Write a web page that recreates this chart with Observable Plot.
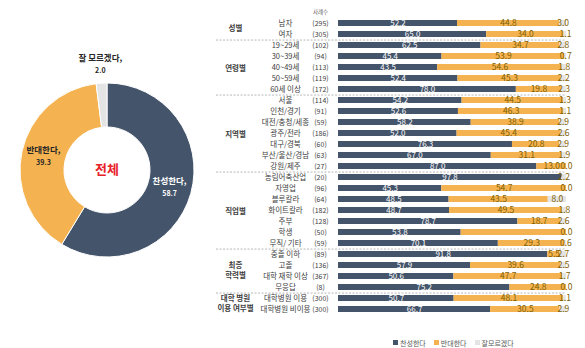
<!DOCTYPE html>
<html><head><meta charset="utf-8">
<script src="https://cdn.jsdelivr.net/npm/d3@7"></script>
<script src="https://cdn.jsdelivr.net/npm/@observablehq/plot@0.6"></script>
<style>
body{margin:0;background:#fff;font-family:"Noto Sans CJK KR","Noto Sans",sans-serif;}
#wrap{position:relative;width:585px;height:348px;display:flex;overflow:hidden;background:#fff;}
#legend{position:absolute;left:393px;top:326px;}
.lg-swatch{margin-right:8px !important;}
.lg-swatch svg{margin-right:2px !important;}
</style></head><body><div id="wrap"></div>
<script>
const categories = ["찬성한다", "반대한다", "잘모르겠다"];
const colors = ["#44546A", "#F4B350", "#E4E4E4"];
const totalValues = [58.7, 39.3, 2.0];
const totalLabels = ["찬성한다,", "반대한다,", "잘 모르겠다,"];
const totalTitle = "전체";
const nHeader = "사례수";

const groupNames = ["성별", "연령별", "지역별", "직업별", "최종\n학력별", "대학 병원\n이용 여부별"];
const rowGroup = ["성별","성별",
  "연령별","연령별","연령별","연령별","연령별",
  "지역별","지역별","지역별","지역별","지역별","지역별","지역별",
  "직업별","직업별","직업별","직업별","직업별","직업별","직업별",
  "최종\n학력별","최종\n학력별","최종\n학력별","최종\n학력별",
  "대학 병원\n이용 여부별","대학 병원\n이용 여부별"];
const rowLabel = ["남자","여자",
  "19~29세","30~39세","40~49세","50~59세","60세 이상",
  "서울","인천/경기","대전/충청/세종","광주/전라","대구/경북","부산/울산/경남","강원/제주",
  "농림어축산업","자영업","블루칼라","화이트칼라","주부","학생","무직/ 기타",
  "중졸 이하","고졸","대학 재학 이상","무응답",
  "대학병원 이용","대학병원 비이용"];
const rowN = [295,305, 102,94,113,119,172, 114,91,59,186,60,63,27, 20,96,64,182,128,50,59, 89,136,367,8, 300,300];
const favor  = [52.2,65.0, 62.5,45.4,43.5,52.4,78.0, 54.2,52.6,58.2,52.0,76.3,67.0,87.0, 97.8,45.3,48.5,48.7,78.7,53.8,70.1, 91.8,57.9,50.6,75.2, 50.7,66.7];
const oppose = [44.8,34.0, 34.7,53.9,54.6,45.3,19.8, 44.5,46.3,38.9,45.4,20.8,31.1,13.0, 0.0,54.7,43.5,49.5,18.7,46.2,29.3, 5.5,39.6,47.7,24.8, 48.1,30.5];
const unsure = [3.0,1.1, 2.8,0.7,1.8,2.2,2.3, 1.3,1.1,2.9,2.6,2.9,1.9,0.0, 2.2,0.0,8.0,1.8,2.6,0.0,0.6, 2.7,2.5,1.7,0.0, 1.1,2.9];
const hiddenLabels = ["농림어축산업|반대한다", "학생|반대한다"];

const FONT = '"Noto Sans CJK KR","Noto Sans",sans-serif';
const colorScale = Plot.scale({color: {domain: categories, range: colors}});

// ---------- Donut ----------
const totalData = categories.map((c, i) => ({cat: c, value: totalValues[i], label: totalLabels[i]}));
function donutMark(index, scales, values, dims) {
  const cx = 107, cy = 170, rOuter = 87, rInner = 43;
  const pie = d3.pie().sort(null).value(d => d.value)(totalData);
  const arc = d3.arc().innerRadius(rInner).outerRadius(rOuter);
  const g = d3.create("svg:g").attr("transform", `translate(${cx},${cy})`);
  g.selectAll("path").data(pie).join("path")
    .attr("d", arc)
    .attr("fill", d => colorScale.apply(d.data.cat))
    .attr("stroke", "#fff").attr("stroke-width", 1);
  pie.forEach((p, i) => {
    const small = (p.endAngle - p.startAngle) < 0.3;
    const r = small ? 106 : 65;
    const a = (p.startAngle + p.endAngle) / 2;
    const x = r * Math.sin(a), y = -r * Math.cos(a);
    const fill = i === 0 ? "#fff" : "#262626";
    g.append("text").attr("x", x).attr("y", y - 5.5).attr("text-anchor", "middle")
      .attr("dominant-baseline", "middle").attr("fill", fill).attr("font-weight", "bold")
      .attr("font-size", 8.5).attr("font-family", FONT).text(p.data.label);
    g.append("text").attr("x", x).attr("y", y + 6.5).attr("text-anchor", "middle")
      .attr("dominant-baseline", "middle").attr("fill", fill).attr("font-weight", "bold")
      .attr("font-size", 7).attr("font-family", FONT).text(p.data.value.toFixed(1));
  });
  g.append("text").attr("x", 0).attr("y", 0).attr("text-anchor", "middle")
    .attr("dominant-baseline", "middle").attr("fill", "#E8212A").attr("font-weight", "bold")
    .attr("font-size", 13).attr("font-family", FONT).text(totalTitle);
  return g.node();
}
const donut = Plot.plot({
  width: 210, height: 348, margin: 0,
  style: {fontFamily: FONT, background: "#fff"},
  marks: [donutMark]
});

// ---------- Bars ----------
const keys = rowLabel.map((l, i) => rowGroup[i] + "|" + l);
const rows = rowLabel.map((l, i) => ({key: keys[i], label: l, n: rowN[i], group: rowGroup[i]}));
const long = [];
rows.forEach((r, i) => {
  [favor[i], oppose[i], unsure[i]].forEach((v, j) => long.push({key: r.key, label: r.label, cat: categories[j], value: v}));
});
const mT = 16, mB = 32, H = 348;
const step = (H - mT - mB) / keys.length;

// group label anchors & separators
const groupAnchors = [], separators = [];
groupNames.forEach((g, gi) => {
  const idx = rows.map((r, i) => r.group === g ? i : -1).filter(i => i >= 0);
  const k = idx.length;
  const mid = idx[Math.floor((k - 1) / 2)];
  groupAnchors.push({key: keys[mid], text: g, even: k % 2 === 0});
  if (gi < groupNames.length - 1) separators.push({key: keys[idx[k - 1]]});
});

const labelFor = (ci, color, size) => Plot.text(long, Plot.stackX({
  y: "key", x: "value", z: "cat",
  text: d => (d.cat === categories[ci] && !hiddenLabels.includes(d.label + "|" + d.cat)) ? d.value.toFixed(1) : null,
  fill: color, fontSize: size
}));
const groupText = (even) => Plot.text(groupAnchors.filter(d => d.even === even), {
  y: "key", dy: even ? step / 2 - 1 : 0, text: "text", frameAnchor: "left", dx: -103,
  textAnchor: "middle", fontSize: 7.5, fontWeight: "bold", fill: "#404040", lineHeight: 1.3
});

const bars = Plot.plot({
  width: 375, height: H,
  marginLeft: 128, marginRight: 19, marginTop: mT, marginBottom: mB,
  x: {domain: [0, 100], axis: null},
  y: {type: "band", domain: keys, paddingInner: 0.42, paddingOuter: 0.21, axis: null},
  color: {domain: categories, range: colors},
  style: {fontFamily: FONT, background: "#fff", overflow: "visible"},
  marks: [
    Plot.ruleY(separators, {y: "key", dy: step / 2, x1: -53.5, x2: 100, stroke: "#A6A6A6", strokeWidth: 0.8, strokeDasharray: "2,1.5"}),
    Plot.barX(long, {y: "key", x: "value", fill: "cat"}),
    labelFor(0, "#ffffff", 8),
    labelFor(1, "#7F6000", 8.5),
    labelFor(2, "#7F6000", 8.5),
    Plot.text(rows, {y: "key", text: "label", frameAnchor: "left", dx: -53, textAnchor: "middle", fontSize: 7.5, fill: "#404040"}),
    Plot.text(rows, {y: "key", text: d => `(${d.n})`, frameAnchor: "left", dx: -18, textAnchor: "middle", fontSize: 7, fill: "#404040"}),
    groupText(false),
    groupText(true),
    Plot.text([nHeader], {text: d => d, frameAnchor: "top-left", dx: -18, dy: -6, textAnchor: "middle", fontSize: 5.5, fill: "#595959"})
  ]
});

const wrap = document.getElementById("wrap");
wrap.append(donut, bars);

const legend = Plot.legend({
  color: {domain: categories, range: colors},
  swatchSize: 5, className: "lg",
  style: {fontSize: "7px", color: "#595959", fontFamily: FONT}
});
const lh = document.createElement("div");
lh.id = "legend";
lh.append(legend);
wrap.append(lh);
</script>
</body></html>
